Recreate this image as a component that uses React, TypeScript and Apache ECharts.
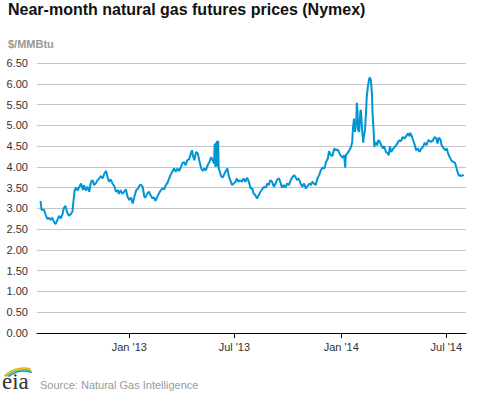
import React, { useEffect, useRef } from "react";
import * as echarts from "echarts";

// Near-month natural gas futures prices ($/MMBtu)
const dates2012 = [
  "08-01","08-03","08-07","08-10","08-13","08-15","08-18","08-21","08-24","08-27","08-30",
  "09-02","09-05","09-08","09-10","09-13","09-16","09-19","09-22","09-25","09-27","09-29",
  "10-01","10-04","10-07","10-10","10-13","10-15","10-18","10-21","10-24","10-27","10-30",
  "11-01","11-04","11-07","11-10","11-13","11-16","11-19","11-22","11-24","11-27","11-30",
  "12-03","12-06","12-09","12-12","12-14","12-17","12-20","12-23","12-26","12-29",
];
const prices2012 = [
  3.18,2.96,2.97,2.84,2.74,2.78,2.72,2.78,2.68,2.62,2.72,
  2.82,2.76,2.86,3.0,3.06,2.9,2.82,2.86,2.92,3.2,3.44,
  3.5,3.43,3.52,3.6,3.44,3.56,3.43,3.52,3.4,3.64,3.68,
  3.56,3.6,3.67,3.72,3.78,3.72,3.84,3.9,3.78,3.64,3.7,
  3.6,3.54,3.4,3.44,3.35,3.44,3.35,3.4,3.46,3.28,
];
const dates2013 = [
  "01-01","01-04","01-07","01-10","01-13","01-16","01-19","01-21","01-24","01-27","01-29",
  "02-01","02-04","02-07","02-10","02-12","02-15","02-18","02-21","02-24","02-27",
  "03-02","03-05","03-08","03-10","03-13","03-16","03-19","03-22","03-25","03-28","03-31",
  "04-02","04-05","04-08","04-11","04-14","04-17","04-19","04-20","04-23","04-26","04-29",
  "05-02","05-05","05-08","05-10","05-13","05-16","05-19","05-22","05-25","05-27","05-28","05-29","05-30","05-31",
  "06-01","06-02","06-03","06-04","06-06","06-08","06-11","06-14","06-17","06-19","06-22","06-24","06-27","06-30",
  "07-03","07-05","07-08","07-11","07-14","07-17","07-20","07-23","07-26","07-29",
  "08-01","08-03","08-06","08-09","08-12","08-15","08-18","08-21","08-24","08-27","08-29",
  "09-01","09-04","09-07","09-10","09-13","09-16","09-19","09-21","09-24","09-27","09-30",
  "10-03","10-06","10-09","10-12","10-14","10-17","10-20","10-23","10-26","10-29",
  "11-01","11-04","11-07","11-10","11-12","11-15","11-18","11-21","11-24","11-27","11-30",
  "12-03","12-06","12-09","12-11","12-14","12-17","12-20","12-23","12-26","12-29","12-31",
];
const prices2013 = [
  3.2,3.26,3.12,3.3,3.44,3.48,3.56,3.57,3.52,3.27,3.27,
  3.36,3.4,3.31,3.24,3.27,3.18,3.27,3.36,3.43,3.48,
  3.46,3.56,3.62,3.7,3.8,3.88,3.96,3.88,3.96,3.9,4.0,
  4.08,4.12,4.04,4.16,4.18,4.32,4.4,4.3,4.16,4.36,4.32,
  4.12,3.96,3.9,3.96,3.92,4.04,4.12,4.23,4.15,4.08,4.55,4.0,4.58,4.02,
  4.62,4.0,4.63,3.96,3.88,3.78,3.74,3.84,3.92,3.96,3.75,3.68,3.56,3.6,
  3.64,3.72,3.64,3.68,3.64,3.72,3.64,3.74,3.64,3.48,
  3.48,3.36,3.32,3.24,3.32,3.4,3.46,3.52,3.5,3.6,3.56,
  3.68,3.64,3.52,3.6,3.7,3.72,3.6,3.5,3.56,3.5,3.6,
  3.56,3.68,3.75,3.8,3.76,3.68,3.72,3.6,3.52,3.6,
  3.48,3.54,3.6,3.56,3.64,3.6,3.56,3.72,3.8,3.92,3.98,
  3.96,4.12,4.2,4.38,4.28,4.26,4.44,4.4,4.42,4.33,4.28,
];
const dates2014 = [
  "01-03","01-06","01-08","01-09","01-12","01-15","01-18","01-20","01-21","01-23","01-24","01-25","01-27","01-28","01-29","01-30",
  "02-01","02-03","02-04","02-06","02-08","02-09","02-11","02-13","02-14","02-16","02-18","02-19","02-21","02-23","02-24","02-26","02-27",
  "03-01","03-04","03-06","03-08","03-11","03-14","03-16","03-19","03-22","03-24","03-26","03-28","03-31",
  "04-03","04-06","04-09","04-11","04-14","04-17","04-20","04-23","04-26","04-29","04-30",
  "05-03","05-05","05-07","05-10","05-13","05-16","05-19","05-22","05-25","05-28","05-31",
  "06-03","06-05","06-08","06-11","06-14","06-16","06-18","06-21","06-23","06-26","06-29",
  "07-02","07-04","07-07","07-10","07-13","07-16","07-18","07-21","07-23","07-25","07-27","07-30","07-31",
];
const prices2014 = [
  4.22,4.28,3.98,4.28,4.33,4.4,4.48,4.6,4.88,5.16,4.92,4.84,5.12,5.54,5.38,4.9,
  4.84,5.33,5.37,4.9,4.58,4.72,4.88,5.37,5.69,5.93,6.1,6.15,6.1,5.77,5.29,4.84,4.48,
  4.6,4.52,4.64,4.62,4.52,4.44,4.5,4.36,4.33,4.28,4.5,4.36,4.42,
  4.48,4.52,4.6,4.64,4.62,4.72,4.68,4.74,4.8,4.74,4.82,
  4.72,4.64,4.56,4.4,4.44,4.36,4.44,4.48,4.58,4.52,4.64,
  4.62,4.6,4.64,4.72,4.68,4.56,4.7,4.66,4.52,4.46,4.4,
  4.44,4.33,4.23,4.15,4.12,4.1,4.0,3.85,3.78,3.8,3.78,3.8,3.81,
];

const xTickDates = ["2013-01-01", "2013-07-01", "2014-01-01", "2014-07-01"];
const xTickLabels = ["Jan '13", "Jul '13", "Jan '14", "Jul '14"];
const xAxisStart = "2012-07-26";
const xAxisEnd = "2014-08-04";
const yMin = 0;
const yMax = 6.5;
const yStep = 0.5;

const titleText = "Near-month natural gas futures prices (Nymex)";
const unitText = "$/MMBtu";
const sourceText = "Source: Natural Gas Intelligence";

function parseLocal(s: string): number {
  const [y, m, d] = s.split("-").map(Number);
  return new Date(y, m - 1, d).getTime();
}

function buildSeries(): [number, number][] {
  const out: [number, number][] = [];
  const years: [string, string[], number[]][] = [
    ["2012", dates2012, prices2012],
    ["2013", dates2013, prices2013],
    ["2014", dates2014, prices2014],
  ];
  for (const [yr, ds, ps] of years) {
    ds.forEach((d, i) => out.push([parseLocal(`${yr}-${d}`), ps[i]]));
  }
  return out;
}

export default function App() {
  const ref = useRef<HTMLDivElement>(null);
  useEffect(() => {
    if (!ref.current) return;
    const chart = echarts.init(ref.current, undefined, { renderer: "svg" });
    const tickTimes = xTickDates.map(parseLocal);
    const font = '"Liberation Sans", Arial, sans-serif';
    chart.setOption({
      animation: false,
      backgroundColor: "#ffffff",
      textStyle: { fontFamily: font },
      grid: { left: 37, right: 11, top: 63, bottom: 60 },
      xAxis: {
        type: "value",
        min: parseLocal(xAxisStart),
        max: parseLocal(xAxisEnd),
        scale: true,
        splitLine: { show: false },
        axisLine: { show: true, onZero: false, lineStyle: { color: "#000000", width: 1 } },
        axisTick: {
          show: true,
          customValues: tickTimes,
          length: 5,
          lineStyle: { color: "#000000", width: 1 },
        },
        axisLabel: {
          customValues: tickTimes,
          color: "#333333",
          fontSize: 11,
          fontFamily: font,
          margin: 8,
          formatter: (val: number) => {
            const i = tickTimes.findIndex((t) => Math.abs(t - val) < 864e5);
            return i >= 0 ? xTickLabels[i] : "";
          },
        },
      },
      yAxis: {
        type: "value",
        min: yMin,
        max: yMax,
        interval: yStep,
        axisLine: { show: false },
        axisTick: { show: false },
        splitLine: { lineStyle: { color: "#c6c6c6", width: 1 } },
        axisLabel: {
          color: "#333333",
          fontSize: 11,
          fontFamily: font,
          margin: 9,
          formatter: (v: number) => v.toFixed(2),
        },
      },
      series: [
        {
          type: "line",
          data: buildSeries(),
          showSymbol: false,
          lineStyle: { color: "#0096d6", width: 2 },
          itemStyle: { color: "#0096d6" },
        },
      ],
      graphic: [
        {
          type: "text",
          x: 8,
          y: 9.5,
          style: {
            text: titleText,
            font: `bold 16px ${font}`,
            fill: "#111111",
            verticalAlign: "middle",
          },
        },
        {
          type: "text",
          x: 8,
          y: 43.5,
          style: {
            text: unitText,
            font: `bold 11px ${font}`,
            fill: "#999999",
            verticalAlign: "middle",
          },
        },
        {
          type: "text",
          x: 40,
          y: 385,
          style: {
            text: sourceText,
            font: `11px ${font}`,
            fill: "#999999",
            verticalAlign: "middle",
          },
        },
        {
          type: "text",
          x: 2,
          y: 381,
          style: {
            text: "eia",
            font: '23px "Liberation Serif", "DejaVu Serif", serif',
            fill: "#333333",
            verticalAlign: "middle",
          },
        },
        {
          type: "arc",
          shape: { cx: 24, cy: 396, r: 28, startAngle: -2.35, endAngle: -1.34 },
          style: { stroke: "#f2b705", lineWidth: 1.6, fill: "none" },
        },
        {
          type: "arc",
          shape: { cx: 24, cy: 396, r: 26.4, startAngle: -2.3, endAngle: -1.3 },
          style: { stroke: "#8cc63f", lineWidth: 1.6, fill: "none" },
        },
        {
          type: "arc",
          shape: { cx: 24, cy: 396, r: 24.8, startAngle: -2.25, endAngle: -1.25 },
          style: { stroke: "#0096d6", lineWidth: 1.6, fill: "none" },
        },
      ],
    });
    return () => chart.dispose();
  }, []);
  return <div ref={ref} style={{ width: 477, height: 393, position: "absolute", left: 0, top: 0 }} />;
}
